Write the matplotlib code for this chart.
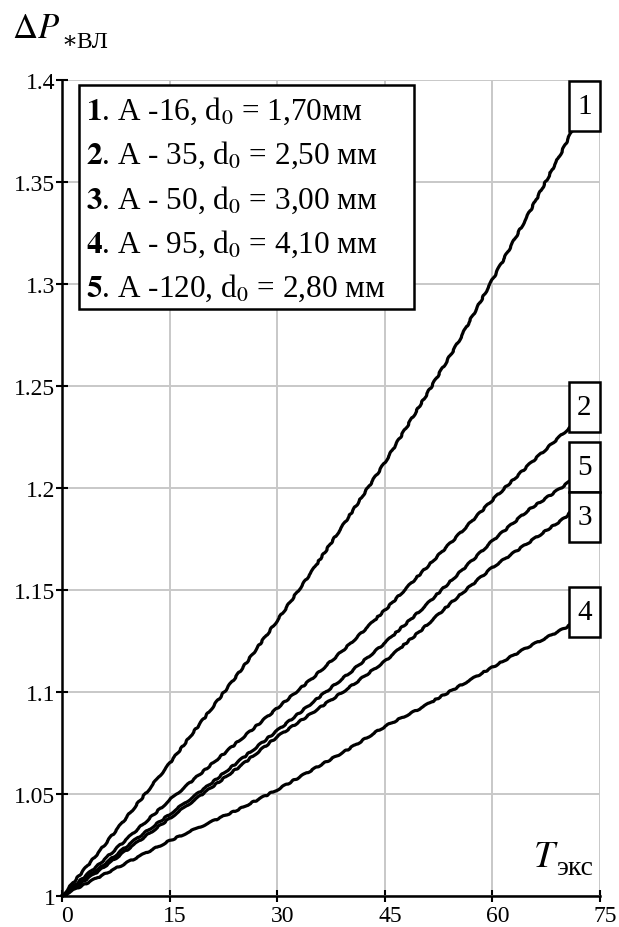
import numpy as np
import matplotlib.pyplot as plt
from matplotlib.patches import Rectangle
import matplotlib.transforms as mtransforms

plt.rcParams['font.family'] = ['Liberation Serif', 'DejaVu Serif']
plt.rcParams['mathtext.fontset'] = 'stix'

# Данные
t = [0, 5, 10, 15, 20, 25, 30, 35, 40, 45, 50, 55, 60, 65, 70, 71.5]
p1 = [1.0, 1.021, 1.043, 1.065, 1.088, 1.111, 1.135, 1.160, 1.186, 1.2125,
      1.241, 1.270, 1.302, 1.334, 1.367, 1.378]
p2 = [1.0, 1.015, 1.031, 1.047, 1.062, 1.077, 1.092, 1.107, 1.123, 1.140,
      1.158, 1.176, 1.194, 1.211, 1.227, 1.232]
p3 = [1.0, 1.012, 1.025, 1.038, 1.051, 1.064, 1.078, 1.090, 1.102, 1.115,
      1.130, 1.146, 1.161, 1.173, 1.185, 1.190]
p4 = [1.0, 1.009, 1.018, 1.027, 1.035, 1.043, 1.052, 1.062, 1.072, 1.083,
      1.092, 1.102, 1.112, 1.122, 1.131, 1.134]
p5 = [1.0, 1.013, 1.027, 1.040, 1.053, 1.067, 1.081, 1.095, 1.109, 1.124,
      1.140, 1.157, 1.174, 1.189, 1.201, 1.205]

curves = [p1, p2, p3, p4, p5]

xticks = [0, 15, 30, 45, 60, 75]
yticks = [1.0, 1.05, 1.1, 1.15, 1.2, 1.25, 1.3, 1.35, 1.4]
ytick_labels = ['1', '1.05', '1.1', '1.15', '1.2', '1.25', '1.3', '1.35', '1.4']

legend_lines = [
    r'$\mathbf{1}$. A -16, d$_0$ = 1,70мм',
    r'$\mathbf{2}$. A - 35, d$_0$ = 2,50 мм',
    r'$\mathbf{3}$. A - 50, d$_0$ = 3,00 мм',
    r'$\mathbf{4}$. A - 95, d$_0$ = 4,10 мм',
    r'$\mathbf{5}$. A -120, d$_0$ = 2,80 мм',
]

fig = plt.figure(figsize=(6.19, 9.28), dpi=100)
ax = fig.add_axes([0.1006, 0.0337, 0.8687, 0.8793])

# Кривые
for y in curves:
    line, = ax.plot(t, y, color='k', linewidth=2.3, zorder=3, clip_on=False)
    line.set_sketch_params(scale=0.6, length=18, randomness=4)

# Рамки с номерами кривых (нижняя граница по оси y)
box_bottom = {'1': 1.375, '2': 1.2275, '5': 1.198, '3': 1.1734, '4': 1.127}
box_h = 0.0245
for name, yb in box_bottom.items():
    ax.add_patch(Rectangle((70.66, yb), 4.34, box_h, facecolor='white',
                           edgecolor='k', linewidth=1.8, zorder=4, clip_on=False))
    ax.text(72.83, yb + box_h / 2, name, ha='center', va='center',
            fontsize=21, zorder=5)

# Легенда
ax.add_patch(Rectangle((0.031, 0.719), 0.623, 0.2745, transform=ax.transAxes,
                       facecolor='white', edgecolor='k', linewidth=1.8, zorder=4))
leg_y = [0.962, 0.908, 0.854, 0.800, 0.745]
for s, yy in zip(legend_lines, leg_y):
    ax.text(0.044, yy, s, transform=ax.transAxes, ha='left', va='center',
            fontsize=22.5, zorder=5)

# Оси
ax.set_xlim(0, 75)
ax.set_ylim(1.0, 1.4)
ax.set_xticks(xticks)
ax.set_yticks(yticks)
ax.set_yticklabels(ytick_labels)
ax.grid(True, color='#c8c8c8', linewidth=1.4, zorder=0)
ax.set_axisbelow(True)
for side in ['top', 'right']:
    ax.spines[side].set_visible(False)
for side in ['left', 'bottom']:
    ax.spines[side].set_linewidth(1.8)
    ax.spines[side].set_zorder(3.5)
ax.tick_params(direction='inout', length=8, width=1.5, labelsize=17, pad=1,
               labelfontfamily='Liberation Serif')
ax.tick_params(axis='x', pad=3)
offset = mtransforms.ScaledTranslation(5 / 100, 0, fig.dpi_scale_trans)
for lab in ax.get_xticklabels():
    lab.set_transform(lab.get_transform() + offset)

# Подписи осей
fig.text(0.0194, 0.9587, r'$\Delta P$', fontsize=25, va='baseline', ha='left')
fig.text(0.100, 0.948, '∗ВЛ', fontsize=17, va='baseline', ha='left',
         family=['Liberation Serif', 'DejaVu Serif'])
fig.text(0.861, 0.0657, r'$T$', fontsize=27, va='baseline', ha='left')
fig.text(0.898, 0.0571, 'экс', fontsize=20, va='baseline', ha='left')

plt.savefig('out.png', dpi=100)
